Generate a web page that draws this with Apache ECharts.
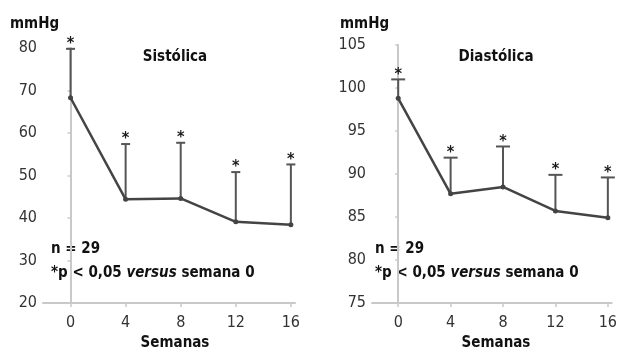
<!DOCTYPE html>
<html>
<head>
<meta charset="utf-8">
<script src="https://cdn.jsdelivr.net/npm/echarts@6/dist/echarts.min.js"></script>
<style>html,body{margin:0;padding:0;background:#fff;}#c{width:620px;height:352px;}</style>
</head>
<body>
<div id="c"></div>
<script>
const weeks = [0, 4, 8, 12, 16];
const weekTicks = [0, 4, 8, 12, 16];
const sysMean = [68.3, 44.4, 44.6, 39.1, 38.4];
const sysUpper = [79.8, 57.4, 57.7, 50.8, 52.6];
const diaMean = [98.8, 87.7, 88.5, 85.7, 84.9];
const diaUpper = [101.0, 91.9, 93.2, 89.9, 89.6];
const sysTitle = 'Sistólica';
const diaTitle = 'Diastólica';
const yUnit = 'mmHg';
const xName = 'Semanas';
const nText = 'n = 29';

const FONT = "'Liberation Sans Narrow','DejaVu Sans Condensed','Roboto',sans-serif";
const axisCol = '#c9c9c9';
const lineCol = '#444444';

function errBar(capHalf) {
  return function (params, api) {
    const p = api.coord([api.value(0), api.value(1)]);
    const t = api.coord([api.value(0), api.value(2)]);
    return {
      type: 'group',
      children: [
        {type: 'line', shape: {x1: p[0], y1: p[1], x2: t[0], y2: t[1]}, style: {stroke: '#555', lineWidth: 2}},
        {type: 'line', shape: {x1: t[0] - capHalf, y1: t[1], x2: t[0] + capHalf, y2: t[1]}, style: {stroke: '#555', lineWidth: 2}},
        {type: 'text', style: {text: '*', x: t[0], y: t[1] - 5, align: 'center', verticalAlign: 'middle', font: 'bold 16px ' + FONT, fill: '#1a1a1a'}}
      ]
    };
  };
}

function xAxisDef(gi) {
  return {
    type: 'value', gridIndex: gi, min: -2, max: 16.3,
    axisLine: {lineStyle: {color: axisCol, width: 2}},
    axisTick: {show: true, length: 4, customValues: weekTicks, lineStyle: {color: axisCol, width: 1.5}},
    axisLabel: {customValues: weekTicks, color: '#333', fontSize: 16, fontFamily: FONT, margin: 12},
    splitLine: {show: false}
  };
}
function yAxisDef(gi, mn, mx, iv) {
  return {
    type: 'value', gridIndex: gi, min: mn, max: mx, interval: iv,
    axisLine: {show: true, lineStyle: {color: axisCol, width: 2}},
    axisTick: {show: true, length: 3, lineStyle: {color: axisCol, width: 1.5}},
    axisLabel: {color: '#333', fontSize: 16, fontFamily: FONT, margin: 6},
    splitLine: {show: false}
  };
}

const chart = echarts.init(document.getElementById('c'), null, {renderer: 'canvas'});
const boldFont = 'bold 15px ' + FONT;
function txt(x, y, text, align) {
  return {type: 'text', x: x, y: y, style: {text: text, font: boldFont, fill: '#111', align: align || 'left', verticalAlign: 'middle'}};
}
function pText(x, y) {
  return {type: 'text', x: x, y: y, style: {
    text: '{b|*p < 0,05 }{i|versus}{b| semana 0}', verticalAlign: 'middle',
    rich: {b: {font: boldFont, fill: '#111'}, i: {font: 'italic bold 15px ' + FONT, fill: '#111'}}
  }};
}

chart.setOption({
  animation: false,
  grid: [
    {left: 43, top: 48, width: 252, height: 255, containLabel: false},
    {left: 372, top: 45, width: 248, height: 258, containLabel: false}
  ],
  xAxis: [xAxisDef(0), xAxisDef(1)],
  yAxis: [yAxisDef(0, 20, 80, 10), yAxisDef(1, 75, 105, 5)],
  series: [
    {type: 'custom', xAxisIndex: 0, yAxisIndex: 0, renderItem: errBar(4.5), z: 1,
      data: weeks.map((w, i) => [w, sysMean[i], sysUpper[i]])},
    {type: 'line', xAxisIndex: 0, yAxisIndex: 0, z: 2, symbol: 'circle', symbolSize: 5,
      lineStyle: {color: lineCol, width: 2.5}, itemStyle: {color: lineCol},
      data: weeks.map((w, i) => [w, sysMean[i]])},
    {type: 'custom', xAxisIndex: 1, yAxisIndex: 1, renderItem: errBar(7), z: 1,
      data: weeks.map((w, i) => [w, diaMean[i], diaUpper[i]])},
    {type: 'line', xAxisIndex: 1, yAxisIndex: 1, z: 2, symbol: 'circle', symbolSize: 5,
      lineStyle: {color: lineCol, width: 2.5}, itemStyle: {color: lineCol},
      data: weeks.map((w, i) => [w, diaMean[i]])}
  ],
  graphic: [
    txt(10, 24, yUnit), txt(340, 24, yUnit),
    txt(175, 57, sysTitle, 'center'), txt(496, 57, diaTitle, 'center'),
    txt(51, 249, nText), pText(51, 273),
    txt(375, 249, nText), pText(375, 273),
    txt(175, 343, xName, 'center'), txt(496, 343, xName, 'center')
  ]
});
</script>
</body>
</html>
